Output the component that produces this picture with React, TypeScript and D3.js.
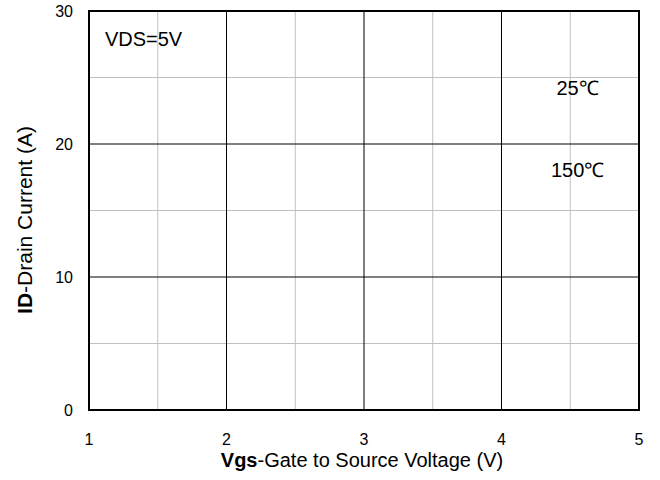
import React from 'react';
import * as d3 from 'd3';

const xTicks = [1, 2, 3, 4, 5];
const xMinor = [1.5, 2.5, 3.5, 4.5];
const yTicks = [0, 10, 20, 30];
const yMinor = [5, 15, 25];
const notes = [
  { x: 1.116, y: 27.35, text: 'VDS=5V' },
  { x: 4.4, y: 23.68, text: '25℃' },
  { x: 4.36, y: 17.52, text: '150℃' },
];

const App: React.FC = () => {
  const width = 660;
  const height = 480;
  const margin = { top: 11, right: 21, bottom: 70, left: 89 };

  const x = d3.scaleLinear().domain([1, 5]).range([margin.left, width - margin.right]);
  const y = d3.scaleLinear().domain([0, 30]).range([height - margin.bottom, margin.top]);
  const font = 'Arial, "Liberation Sans", sans-serif';

  return (
    <svg
      width={width}
      height={height}
      style={{ position: 'absolute', left: 0, top: 0, background: '#fff' }}
      fontFamily={font}
    >
      {/* minor grid */}
      {xMinor.map((d) => (
        <line key={'xm' + d} x1={x(d)} x2={x(d)} y1={y(0)} y2={y(30)} stroke='#c0c0c0' strokeWidth={1} />
      ))}
      {yMinor.map((d) => (
        <line key={'ym' + d} x1={x(1)} x2={x(5)} y1={y(d)} y2={y(d)} stroke='#c0c0c0' strokeWidth={1} />
      ))}
      {/* major grid */}
      {xTicks.map((d) => (
        <line key={'xg' + d} x1={x(d)} x2={x(d)} y1={y(0)} y2={y(30)} stroke='#000' strokeWidth={1} />
      ))}
      {yTicks.map((d) => (
        <line key={'yg' + d} x1={x(1)} x2={x(5)} y1={y(d)} y2={y(d)} stroke='#000' strokeWidth={1} />
      ))}
      <rect
        x={x(1)}
        y={y(30)}
        width={x(5) - x(1)}
        height={y(0) - y(30)}
        fill='none'
        stroke='#000'
        strokeWidth={2}
      />

      {yTicks.map((d) => (
        <text key={'yl' + d} x={x(1) - 16} y={y(d)} dy='0.35em' textAnchor='end' fontSize={16}>
          {d}
        </text>
      ))}
      {xTicks.map((d) => (
        <text key={'xl' + d} x={x(d)} y={y(0) + 35} textAnchor='middle' fontSize={16}>
          {d}
        </text>
      ))}

      <text x={362} y={467} textAnchor='middle' fontSize={20}>
        <tspan fontWeight='bold'>Vgs</tspan>-Gate to Source Voltage (V)
      </text>
      <text transform={`translate(32,220) rotate(-90)`} textAnchor='middle' fontSize={21}>
        <tspan fontWeight='bold'>ID</tspan>-Drain Current (A)
      </text>

      {notes.map((n) => (
        <text key={n.text} x={x(n.x)} y={y(n.y)} fontSize={20}>
          {n.text}
        </text>
      ))}
    </svg>
  );
};

export default App;
